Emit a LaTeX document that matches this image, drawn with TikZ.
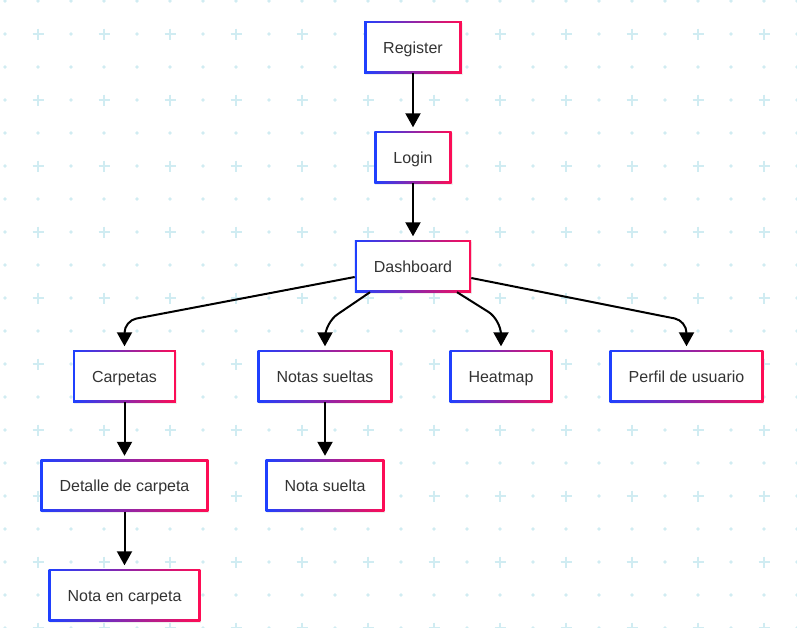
\documentclass[tikz,border=0pt]{standalone}
\usepackage{fontspec}
\setmainfont{Liberation Sans}
\usetikzlibrary{arrows.meta,shadows}
\definecolor{gridc}{RGB}{208,236,242}
\definecolor{gblue}{RGB}{30,64,255}
\definecolor{gred}{RGB}{255,12,84}
\definecolor{txt}{HTML}{333333}
\tikzset{
  box/.style={rectangle, minimum height=52pt, inner xsep=19pt, inner ysep=0pt,
    text height=14pt, text depth=2pt,
    font=\fontsize{16}{19}\selectfont, text=txt, fill=white,
    drop shadow={shadow xshift=1pt, shadow yshift=-1.5pt, opacity=0.12},
    path picture={
      \shade[left color=gblue, right color=gred]
        (path picture bounding box.south west) rectangle (path picture bounding box.north east);
      \fill[white] ([shift={(2.4pt,2.4pt)}]path picture bounding box.south west)
        rectangle ([shift={(-2.4pt,-2.4pt)}]path picture bounding box.north east);
    }},
  arr/.style={line width=2pt, draw=black, -{Triangle[width=15pt,length=14pt]}, shorten >=3.5pt},
}
\begin{document}
\begin{tikzpicture}[x=1pt,y=-1pt]
\useasboundingbox (0,0) rectangle (797,627);
\fill[white] (0,0) rectangle (797,627);
% background pattern
\foreach \i in {0,...,24}{
  \foreach \j in {0,...,19}{
    \pgfmathtruncatemacro\p{mod(\i,2)*mod(\j,2)}
    \ifnum\p=1
      \draw[gridc, line width=2pt] (5+33*\i-5.5, 1+33*\j) -- (5+33*\i+5.5, 1+33*\j)
        (5+33*\i, 1+33*\j-5.5) -- (5+33*\i, 1+33*\j+5.5);
    \else
      \fill[gridc] (5+33*\i, 1+33*\j) circle (1.8pt);
    \fi
  }
}
% nodes
\node[box] (reg) at (413,47) {Register};
\node[box] (login) at (413,157) {Login};
\node[box] (dash) at (413,266) {Dashboard};
\node[box] (carp) at (124.5,376) {Carpetas};
\node[box] (notas) at (325,376) {Notas sueltas};
\node[box] (heat) at (501,376) {Heatmap};
\node[box] (perfil) at (686.5,376) {Perfil de usuario};
\node[box] (det) at (124.5,485.5) {Detalle de carpeta};
\node[box] (nsu) at (325,485.5) {Nota suelta};
\node[box] (nec) at (124.5,595) {Nota en carpeta};
% edges
\draw[arr] (reg) -- (login);
\draw[arr] (login) -- (dash);
\draw[arr, rounded corners=12pt] ([yshift=-11pt]dash.west) -- ([yshift=29pt]carp.north) -- (carp.north);
\draw[arr, rounded corners=15pt] ([xshift=-43pt]dash.south) -- ([yshift=27pt]notas.north) -- (notas.north);
\draw[arr, rounded corners=15pt] ([xshift=44pt]dash.south) -- ([yshift=30pt]heat.north) -- (heat.north);
\draw[arr, rounded corners=12pt] ([yshift=-12pt]dash.east) -- ([yshift=29pt]perfil.north) -- (perfil.north);
\draw[arr] (carp) -- (det);
\draw[arr] (notas) -- (nsu);
\draw[arr] (det) -- (nec);
\end{tikzpicture}
\end{document}
